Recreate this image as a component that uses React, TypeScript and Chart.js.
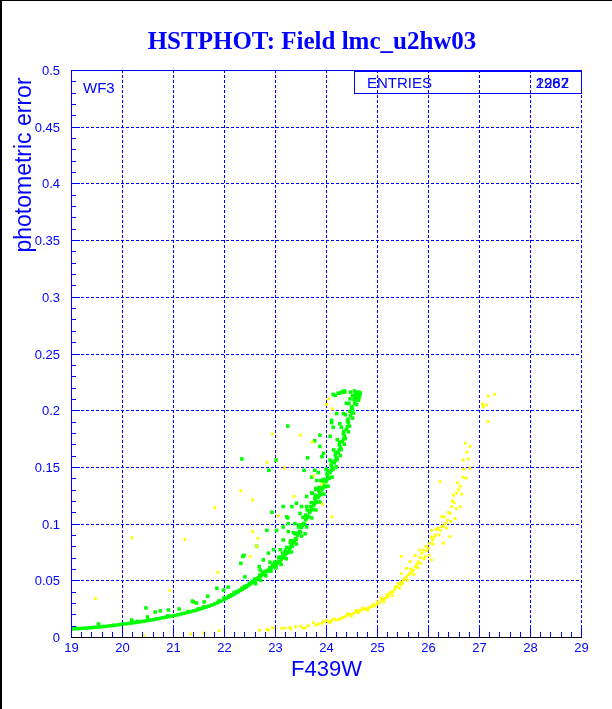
import { useEffect, useRef } from "react";
import { Chart, registerables } from "chart.js";

Chart.register(...registerables);

const BLUE = "#0000ff";
const GREEN = "#00ff00";
const YELLOW = "#ffff00";
const SANS = "'Liberation Sans', Arial, sans-serif";
const SERIF = "'Liberation Serif', 'Times New Roman', serif";

const TITLE = "HSTPHOT: Field lmc_u2hw03";
const X_TITLE = "F439W";
const Y_TITLE = "photometric error";
const PANEL_LABEL = "WF3";
const STATS_LABEL = "ENTRIES";
const STATS_VALUES = ["2987", "1262"];

const X_MIN = 19;
const X_MAX = 29;
const Y_MIN = 0;
const Y_MAX = 0.5;
const xTickValues = [19, 20, 21, 22, 23, 24, 25, 26, 27, 28, 29];
const xTickLabels = ["19", "20", "21", "22", "23", "24", "25", "26", "27", "28", "29"];
const yTickValues = [0, 0.05, 0.1, 0.15, 0.2, 0.25, 0.3, 0.35, 0.4, 0.45, 0.5];
const yTickLabels = ["0", "0.05", "0.1", "0.15", "0.2", "0.25", "0.3", "0.35", "0.4", "0.45", "0.5"];

// green sequence: [magnitude, error]
const greenBand: [number, number][] = [
  [19.0, 0.0071], [19.06, 0.0072], [19.12, 0.0074], [19.18, 0.0075], [19.24, 0.0077], [19.3, 0.0079],
  [19.36, 0.0081], [19.42, 0.0083], [19.48, 0.0086], [19.54, 0.0088], [19.6, 0.0091], [19.66, 0.0093],
  [19.72, 0.0096], [19.78, 0.0099], [19.84, 0.0103], [19.9, 0.0106], [19.96, 0.011], [20.02, 0.0114],
  [20.08, 0.0117], [20.14, 0.0121], [20.2, 0.0124], [20.26, 0.0128], [20.32, 0.0132], [20.38, 0.0136],
  [20.44, 0.014], [20.5, 0.0145], [20.56, 0.0149], [20.62, 0.0154], [20.68, 0.0159], [20.74, 0.0164],
  [20.8, 0.017], [20.86, 0.0175], [20.92, 0.018], [20.98, 0.0185], [21.04, 0.019], [21.1, 0.0196],
  [21.16, 0.0203], [21.22, 0.0209], [21.28, 0.0216], [21.34, 0.0223], [21.4, 0.023], [21.46, 0.0237],
  [21.52, 0.0246], [21.58, 0.0254], [21.64, 0.0263], [21.7, 0.0272], [21.76, 0.0282], [21.82, 0.0292],
  [21.88, 0.0303], [21.94, 0.0316], [22.0, 0.033],
  [20.3, 0.0138], [20.9, 0.0186], [21.3, 0.0224], [21.6, 0.0265], [21.9, 0.0318], [21.5, 0.025], [22.0, 0.0345],
  [22.04, 0.034], [22.08, 0.035], [22.12, 0.036], [22.16, 0.037], [22.2, 0.038], [22.24, 0.039],
  [22.28, 0.04], [22.32, 0.0411], [22.36, 0.0421], [22.4, 0.0432], [22.44, 0.0444], [22.48, 0.0456],
  [22.52, 0.0468], [22.56, 0.0481], [22.6, 0.0495], [22.64, 0.0509], [22.68, 0.0523], [22.72, 0.0537],
  [22.76, 0.055], [22.8, 0.0563], [22.84, 0.0577], [22.88, 0.059], [22.92, 0.0604], [22.96, 0.0618], [23.0, 0.0633],
  [22.2, 0.0392], [22.4, 0.0445], [22.5, 0.0475], [22.6, 0.051], [22.7, 0.0545], [22.8, 0.0578], [22.9, 0.0612],
  [22.35, 0.043], [22.55, 0.049], [22.75, 0.0562], [22.95, 0.0628],
  [22.1, 0.0362], [22.3, 0.0412], [22.45, 0.0452], [22.65, 0.0515], [22.85, 0.0585], [22.15, 0.0372],
  [22.25, 0.0398], [22.42, 0.044], [22.62, 0.0505], [22.78, 0.0567], [22.98, 0.064],
  [23.04, 0.065], [23.08, 0.0668], [23.12, 0.0686], [23.16, 0.0706], [23.2, 0.0727], [23.24, 0.0751],
  [23.28, 0.0777], [23.32, 0.0805], [23.36, 0.0834], [23.4, 0.0865], [23.44, 0.0898], [23.48, 0.0932],
  [23.52, 0.0967], [23.56, 0.1001], [23.6, 0.1035], [23.64, 0.1067], [23.68, 0.1099], [23.72, 0.1131],
  [23.76, 0.1163], [23.8, 0.1195], [23.84, 0.1229], [23.88, 0.1263], [23.92, 0.1297], [23.96, 0.1333],
  [24.0, 0.137], [24.04, 0.1409], [24.08, 0.1449], [24.12, 0.1491], [24.16, 0.1535], [24.2, 0.158],
  [24.24, 0.1625], [24.28, 0.1672], [24.32, 0.1721], [24.36, 0.1775], [24.4, 0.183], [24.44, 0.189],
  [24.48, 0.195], [24.52, 0.2008], [24.56, 0.206], [24.6, 0.211], [24.63, 0.214], [24.65, 0.216],
  [22.99, 0.066], [23.07, 0.07], [23.15, 0.074], [23.23, 0.079], [23.31, 0.085], [23.39, 0.0915],
  [23.47, 0.0985], [23.55, 0.1055], [23.63, 0.112], [23.71, 0.1185], [23.79, 0.125], [23.87, 0.132],
  [23.95, 0.139], [24.03, 0.1465], [24.11, 0.1545], [24.19, 0.163], [24.27, 0.172], [24.35, 0.1815],
  [24.43, 0.192], [24.51, 0.203], [24.57, 0.212], [24.58, 0.215],
  [23.1, 0.066], [23.18, 0.07], [23.26, 0.0745], [23.34, 0.08], [23.42, 0.086], [23.5, 0.0925],
  [23.58, 0.0995], [23.66, 0.106], [23.74, 0.1125], [23.82, 0.119], [23.9, 0.1255], [23.98, 0.1325],
  [24.06, 0.14], [24.14, 0.148], [24.22, 0.1565], [24.3, 0.1655], [24.38, 0.175], [24.46, 0.186],
  [24.54, 0.1975], [24.62, 0.209], [24.67, 0.215], [24.66, 0.212],
  [23.8, 0.13], [23.9, 0.138], [24.0, 0.148], [24.08, 0.156], [24.15, 0.165], [24.22, 0.174],
  [24.3, 0.185], [24.38, 0.196], [24.45, 0.206], [24.52, 0.213], [24.48, 0.216], [24.56, 0.217],
  [22.62, 0.047], [22.72, 0.05], [22.82, 0.054], [22.92, 0.058], [23.02, 0.061], [23.12, 0.064],
  [23.22, 0.069], [23.32, 0.075], [23.42, 0.082], [23.52, 0.089], [23.62, 0.097], [23.72, 0.105],
  [23.8, 0.112], [23.88, 0.119], [23.96, 0.126], [24.04, 0.133], [24.12, 0.141], [24.2, 0.15],
  [24.28, 0.16], [24.36, 0.17], [24.44, 0.181], [24.52, 0.193], [24.6, 0.205], [24.64, 0.209],
  [23.02, 0.064], [23.06, 0.066], [23.14, 0.07], [23.22, 0.074], [23.3, 0.079], [23.38, 0.085],
  [23.46, 0.0915], [23.54, 0.0985], [23.62, 0.105], [23.7, 0.1115], [23.78, 0.118], [23.86, 0.1245],
  [23.94, 0.1315], [24.02, 0.139], [24.1, 0.147], [24.18, 0.1555], [24.26, 0.165], [24.34, 0.1745],
  [24.42, 0.1855], [24.5, 0.198], [24.58, 0.209], [24.62, 0.2135],
  [23.0, 0.0655], [23.1, 0.0705], [23.2, 0.0765], [23.3, 0.0835], [23.4, 0.091], [23.5, 0.099],
  [23.6, 0.1075], [23.7, 0.115], [23.78, 0.122], [23.86, 0.129], [23.94, 0.136], [24.02, 0.1435],
  [24.1, 0.1515], [24.18, 0.1605], [24.26, 0.1695], [24.34, 0.1795], [24.42, 0.1905], [24.5, 0.202],
  [24.55, 0.2095], [24.6, 0.2155],
];

const greenFaint: [number, number][] = [
  [22.35, 0.157], [23.25, 0.186], [23.02, 0.156], [22.88, 0.147], [22.94, 0.11], [23.25, 0.105],
  [22.84, 0.094], [22.33, 0.065], [22.37, 0.071], [23.78, 0.173], [23.88, 0.178], [24.14, 0.214],
  [24.24, 0.215], [24.31, 0.216], [24.36, 0.217], [23.64, 0.158], [23.57, 0.147], [23.42, 0.118],
  [23.62, 0.115], [23.73, 0.127], [23.8, 0.131], [23.85, 0.145], [23.95, 0.162], [24.11, 0.189],
  [24.21, 0.197], [24.4, 0.206], [23.03, 0.094], [23.16, 0.115], [23.26, 0.1], [23.36, 0.092], [23.49, 0.109],
  [20.19, 0.015], [20.5, 0.0176], [20.65, 0.022], [20.75, 0.023], [20.91, 0.0238], [21.12, 0.0247],
  [21.38, 0.0317], [21.46, 0.03], [21.61, 0.031], [21.68, 0.036], [21.86, 0.043], [21.99, 0.0414],
  [22.08, 0.044], [22.39, 0.072], [22.41, 0.053], [22.64, 0.08], [22.69, 0.062], [20.47, 0.0256],
  [19.54, 0.0115], [19.08, 0.008], [21.4, 0.031],
  [22.77, 0.068], [22.87, 0.074], [22.97, 0.077], [23.16, 0.0855], [23.26, 0.093], [23.39, 0.1],
  [23.52, 0.115], [23.62, 0.124], [23.72, 0.127], [23.82, 0.138], [23.72, 0.141], [23.78, 0.147],
  [23.92, 0.159], [23.88, 0.168], [24.08, 0.177], [24.14, 0.185], [24.11, 0.191], [24.27, 0.188],
  [24.18, 0.213], [24.27, 0.215], [24.37, 0.216], [24.47, 0.21], [24.47, 0.199], [24.34, 0.197],
  [23.59, 0.091], [23.1, 0.077], [22.9, 0.066], [22.71, 0.059], [23.23, 0.106], [23.33, 0.115],
  [23.16, 0.097], [23.46, 0.097],
];

// yellow sequence: [magnitude, error]
const yellowBand: [number, number][] = [
  [22.84, 0.0068], [23.0, 0.0076], [23.13, 0.0076], [23.29, 0.0085], [23.55, 0.0079], [23.75, 0.0126],
  [23.92, 0.012], [24.01, 0.0144], [24.11, 0.0144], [24.26, 0.0156], [24.34, 0.0174], [24.44, 0.0194],
  [24.54, 0.0209], [24.63, 0.0214], [24.7, 0.0238], [24.8, 0.025], [24.9, 0.0267], [24.96, 0.0273],
  [25.01, 0.031], [25.09, 0.0326], [25.16, 0.0341], [25.19, 0.037], [25.25, 0.0385], [25.32, 0.04],
  [25.39, 0.0444], [25.42, 0.0473], [25.52, 0.0503], [25.58, 0.0532], [25.65, 0.0562], [25.71, 0.059],
  [25.75, 0.062], [25.81, 0.0664], [25.88, 0.0738], [25.91, 0.0767], [25.94, 0.0708], [26.01, 0.0782],
  [26.04, 0.0826], [26.09, 0.0855], [26.14, 0.09], [26.2, 0.0958], [26.27, 0.0973], [26.3, 0.098],
  [26.38, 0.103], [26.43, 0.109], [26.46, 0.115], [26.51, 0.1185], [26.56, 0.127], [26.6, 0.13],
  [26.63, 0.133], [26.69, 0.141], [26.69, 0.156], [26.79, 0.157], [26.73, 0.171], [26.82, 0.168],
  [27.08, 0.203], [27.15, 0.2046], [27.18, 0.2125], [27.31, 0.214], [27.07, 0.2055],
  [24.05, 0.0135], [24.2, 0.015], [24.38, 0.018], [24.48, 0.02], [24.58, 0.0222], [24.66, 0.023],
  [24.75, 0.0245], [24.85, 0.026], [25.05, 0.03], [25.12, 0.033], [25.22, 0.036], [25.28, 0.0395],
  [25.35, 0.042], [25.45, 0.046], [25.48, 0.0485], [25.55, 0.0515], [25.62, 0.055], [25.68, 0.0575],
  [25.78, 0.064], [25.85, 0.07], [25.98, 0.076], [26.12, 0.088], [26.24, 0.094], [26.35, 0.1],
  [23.4, 0.009], [23.65, 0.01], [23.85, 0.0115],
  [24.15, 0.016], [24.3, 0.0165], [24.42, 0.0205], [24.5, 0.0185], [24.6, 0.0235], [24.72, 0.0255],
  [24.82, 0.0235], [24.92, 0.0285], [25.0, 0.029], [25.08, 0.0345], [25.14, 0.031], [25.2, 0.035],
  [25.3, 0.0365], [25.36, 0.044], [25.44, 0.043], [25.5, 0.047], [25.6, 0.05], [25.66, 0.06],
  [25.72, 0.055], [25.8, 0.061], [25.86, 0.065], [25.92, 0.069], [25.96, 0.08], [26.02, 0.072],
  [26.06, 0.088], [26.1, 0.082], [26.16, 0.095], [26.22, 0.09], [26.32, 0.106], [26.36, 0.096],
  [26.45, 0.102], [26.48, 0.12], [26.55, 0.113], [26.58, 0.136], [26.66, 0.126], [26.7, 0.148],
  [26.75, 0.14], [23.8, 0.0105], [23.95, 0.0135], [24.08, 0.0125], [23.2, 0.008], [23.5, 0.0095],
  [22.95, 0.008], [22.7, 0.006],
];

const yellowFaint: [number, number][] = [
  [20.43, 0.0012], [21.35, 0.0026], [21.61, 0.0035], [21.9, 0.0056], [22.87, 0.006], [23.31, 0.007], [23.59, 0.008],
  [20.19, 0.0876], [19.48, 0.034], [21.23, 0.086], [20.94, 0.041], [21.88, 0.057], [22.51, 0.071],
  [22.56, 0.093], [22.67, 0.087], [21.82, 0.114],
  [22.95, 0.179], [23.5, 0.178], [23.73, 0.172], [22.84, 0.154], [23.19, 0.149], [22.33, 0.129],
  [22.56, 0.121], [23.76, 0.142], [23.92, 0.135], [23.93, 0.117], [24.12, 0.106], [23.37, 0.124],
  [23.06, 0.107], [24.05, 0.21], [24.01, 0.205], [24.12, 0.201], [22.64, 0.08],
  [26.24, 0.137], [26.27, 0.106], [26.53, 0.1046], [26.4, 0.11], [26.07, 0.094], [26.3, 0.0826],
  [26.07, 0.068], [25.84, 0.0767], [25.75, 0.072], [25.58, 0.0605], [25.48, 0.071], [25.65, 0.0665],
  [25.48, 0.056], [26.43, 0.0885], [26.63, 0.115], [26.5, 0.125], [27.18, 0.19], [26.76, 0.163], [26.82, 0.149],
];

const toPoints = (arr: [number, number][]) => arr.map(([x, y]) => ({ x, y }));

const framePlugin = {
  id: "rootFrame",
  beforeDatasetsDraw(chart: any) {
    const { ctx, chartArea: a } = chart;
    const xs = chart.scales.x;
    const ys = chart.scales.y;
    ctx.save();
    ctx.strokeStyle = BLUE;
    ctx.lineWidth = 1;
    ctx.setLineDash([3, 2]);
    for (const v of xTickValues) {
      if (v === X_MIN) continue;
      const px = Math.round(xs.getPixelForValue(v)) + 0.5;
      ctx.beginPath();
      ctx.moveTo(px, a.top);
      ctx.lineTo(px, a.bottom);
      ctx.stroke();
    }
    for (const v of yTickValues) {
      if (v === Y_MIN || v === Y_MAX) continue;
      const py = Math.round(ys.getPixelForValue(v)) + 0.5;
      ctx.beginPath();
      ctx.moveTo(a.left, py);
      ctx.lineTo(a.right, py);
      ctx.stroke();
    }
    ctx.restore();
  },
  afterDatasetsDraw(chart: any) {
    const { ctx } = chart;
    const xs = chart.scales.x;
    const ys = chart.scales.y;
    const L = Math.round(xs.getPixelForValue(X_MIN));
    const R = Math.round(xs.getPixelForValue(X_MAX));
    const T = Math.round(ys.getPixelForValue(Y_MAX));
    const B = Math.round(ys.getPixelForValue(Y_MIN));
    ctx.save();
    ctx.fillStyle = BLUE;
    ctx.fillRect(L, T, 1, B - T + 1);
    ctx.fillRect(L, T, R - L + 1, 1);
    for (let i = 0; i <= 50; i++) {
      const v = X_MIN + i * 0.2;
      const px = Math.round(xs.getPixelForValue(v));
      if (i % 5 === 0) ctx.fillRect(px, B - 10, 1, 10);
      else ctx.fillRect(px, B - 5, 1, 5);
    }
    for (let i = 0; i <= 50; i++) {
      const v = Y_MIN + i * 0.01;
      const py = Math.round(ys.getPixelForValue(v));
      if (i % 5 === 0) ctx.fillRect(L + 1, py, 8, 1);
      else ctx.fillRect(L + 1, py, 4, 1);
    }
    ctx.fillStyle = "#000000";
    ctx.fillRect(L, B, R - L + 1, 1);

    ctx.fillStyle = BLUE;
    ctx.font = `13px ${SANS}`;
    ctx.textBaseline = "alphabetic";
    ctx.textAlign = "center";
    xTickValues.forEach((v, i) => {
      const px = Math.round(xs.getPixelForValue(v)) + 0.5;
      ctx.fillText(xTickLabels[i], px, B + 15);
    });
    ctx.textAlign = "right";
    yTickValues.forEach((v, i) => {
      const py = Math.round(ys.getPixelForValue(v));
      ctx.fillText(yTickLabels[i], L - 11, py + 5);
    });

    ctx.font = `22px ${SANS}`;
    ctx.textAlign = "center";
    ctx.fillText(X_TITLE, (L + R) / 2 + 0.5, 676);
    ctx.save();
    ctx.translate(31, 165);
    ctx.rotate(-Math.PI / 2);
    ctx.font = `23px ${SANS}`;
    ctx.fillText(Y_TITLE, 0, 0);
    ctx.restore();

    ctx.font = `bold 25px ${SERIF}`;
    ctx.textAlign = "center";
    ctx.fillText(TITLE, 312, 49);

    ctx.font = `15px ${SANS}`;
    ctx.textAlign = "left";
    ctx.fillText(PANEL_LABEL, 83, 93);

    ctx.strokeStyle = BLUE;
    ctx.lineWidth = 1;
    ctx.setLineDash([]);
    ctx.strokeRect(354.5, 71.5, R - 354, 22);
    ctx.fillText(STATS_LABEL, 367, 88);
    ctx.textAlign = "right";
    STATS_VALUES.forEach((s) => ctx.fillText(s, 569, 88));

    ctx.fillStyle = "#000000";
    ctx.fillRect(0, 0, 2, chart.height);
    ctx.fillRect(0, 0, chart.width, 1);
    ctx.restore();
  },
};

export default function App() {
  const canvasRef = useRef<HTMLCanvasElement | null>(null);

  useEffect(() => {
    const canvas = canvasRef.current;
    if (!canvas) return;
    const hiddenScale = {
      ticks: { display: false },
      grid: { display: false, drawTicks: false },
      border: { display: false },
    };
    const chart = new Chart(canvas, {
      type: "scatter",
      data: {
        datasets: [
          {
            label: "yellow",
            data: [...toPoints(yellowBand), ...toPoints(yellowFaint)],
            backgroundColor: YELLOW,
            borderColor: YELLOW,
            borderWidth: 0,
            pointStyle: "rect",
            pointRadius: 2.0,
            order: 0,
          },
          {
            label: "green",
            data: [...toPoints(greenBand), ...toPoints(greenFaint)],
            backgroundColor: GREEN,
            borderColor: GREEN,
            borderWidth: 0,
            pointStyle: "rect",
            pointRadius: 2.5,
            order: 1,
          },
        ],
      },
      options: {
        responsive: false,
        animation: false,
        events: [],
        layout: { padding: { top: 70, right: 31, left: 0, bottom: 0 } },
        plugins: {
          legend: { display: false },
          title: { display: false },
          tooltip: { enabled: false },
        },
        scales: {
          x: {
            type: "linear",
            min: X_MIN,
            max: X_MAX,
            ...hiddenScale,
            afterFit: (s: any) => {
              s.height = 72;
            },
          },
          y: {
            type: "linear",
            min: Y_MIN,
            max: Y_MAX,
            ...hiddenScale,
            afterFit: (s: any) => {
              s.width = 71;
            },
          },
        },
      } as any,
      plugins: [framePlugin],
    });
    return () => chart.destroy();
  }, []);

  return (
    <div style={{ position: "absolute", left: 0, top: 0, width: 612, height: 709, background: "#fff" }}>
      <canvas ref={canvasRef} width={612} height={709} style={{ display: "block" }} />
    </div>
  );
}
